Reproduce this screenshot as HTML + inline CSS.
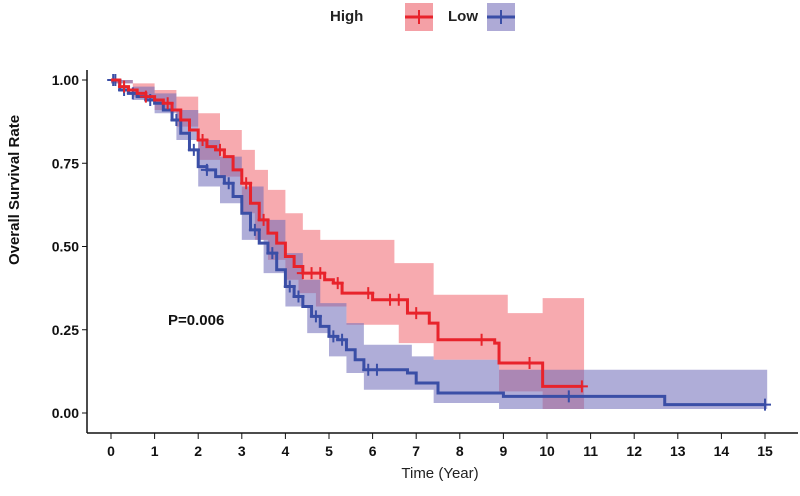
<!DOCTYPE html>
<html><head><meta charset="utf-8"><style>
body{margin:0;background:#fff;}
svg text{font-family:"Liberation Sans",sans-serif;}
</style></head><body>
<svg width="800" height="491">
<g>
<text x="330" y="21" font-size="15" font-weight="bold" fill="#222">High</text>
<rect x="405" y="3" width="28" height="28" fill="#f4a0a6"/>
<line x1="405" y1="17" x2="433" y2="17" stroke="#e8232b" stroke-width="3"/><line x1="419" y1="10" x2="419" y2="24" stroke="#e8232b" stroke-width="2"/>
<text x="448" y="21" font-size="15" font-weight="bold" fill="#222">Low</text>
<rect x="487" y="3" width="28" height="28" fill="#aeaad6"/>
<line x1="487" y1="17" x2="515" y2="17" stroke="#3a4ea6" stroke-width="3"/><line x1="501" y1="10" x2="501" y2="24" stroke="#3a4ea6" stroke-width="2"/>
</g>
<g id="plot"></g>
<text transform="translate(19,190) rotate(-90)" text-anchor="middle" font-size="15" font-weight="bold" fill="#111">Overall Survival Rate</text>
<text x="440" y="478" text-anchor="middle" font-size="15" fill="#222">Time (Year)</text>
<text x="168" y="325" font-size="15" font-weight="bold" fill="#111">P=0.006</text>
</svg>
<script>
const xTicks=[0,1,2,3,4,5,6,7,8,9,10,11,12,13,14,15];
const yTicks=[0,0.25,0.5,0.75,1];
const yTickLabels=["0.00","0.25","0.50","0.75","1.00"];
const highT=[0,0.2,0.4,0.6,0.8,1.0,1.2,1.4,1.6,1.8,2.0,2.2,2.4,2.6,2.8,3.0,3.2,3.4,3.6,3.8,4.0,4.2,4.4,4.9,5.1,5.3,6.0,6.8,7.3,7.5,8.8,8.9,9.9,10.8];
const highS=[1,0.98,0.97,0.96,0.95,0.94,0.93,0.91,0.88,0.85,0.82,0.80,0.79,0.77,0.73,0.69,0.63,0.58,0.54,0.51,0.47,0.44,0.42,0.40,0.39,0.36,0.34,0.30,0.27,0.22,0.21,0.15,0.08,0.08];
const lowT=[0,0.2,0.4,0.6,0.8,1.0,1.2,1.4,1.6,1.8,2.0,2.2,2.4,2.6,2.8,3.0,3.2,3.4,3.6,3.8,4.0,4.2,4.4,4.6,4.8,5.0,5.2,5.4,5.6,5.8,6.8,7.0,7.5,9,12.7,15];
const lowS=[1,0.97,0.96,0.95,0.94,0.93,0.91,0.88,0.84,0.79,0.74,0.73,0.71,0.69,0.65,0.60,0.55,0.51,0.48,0.43,0.38,0.35,0.32,0.29,0.26,0.23,0.22,0.19,0.16,0.13,0.12,0.09,0.06,0.05,0.025,0.025];
const highUT=[0,0.5,1,1.5,2,2.5,3,3.3,3.6,4,4.4,4.8,6.5,7.4,9.1,9.9,10.85];
const highU=[1,0.99,0.97,0.95,0.90,0.85,0.79,0.73,0.67,0.60,0.55,0.52,0.45,0.355,0.30,0.345,0.345];
const highLT=[0,0.5,1,1.5,2,2.5,3,3.3,3.6,4,4.3,4.7,5.4,6.6,7.4,8.9,9.9,10.85];
const highL=[0.99,0.95,0.91,0.86,0.76,0.71,0.60,0.52,0.46,0.40,0.36,0.32,0.265,0.21,0.16,0.065,0.012,0.012];
const lowUT=[0,0.5,1,1.5,2,2.5,3,3.5,4,4.4,4.8,5.4,5.8,6.9,7.4,8.9,15.05];
const lowU=[1,0.98,0.96,0.91,0.82,0.77,0.68,0.58,0.48,0.40,0.33,0.27,0.205,0.17,0.16,0.13,0.13];
const lowLT=[0,0.5,1,1.5,2,2.5,3,3.5,4,4.5,5,5.4,5.8,7.4,8.9,15.05];
const lowL=[0.99,0.94,0.90,0.82,0.68,0.63,0.52,0.42,0.32,0.24,0.17,0.12,0.07,0.03,0.012,0.012];
const highCens=[0.3,0.8,1.3,2.1,2.5,3.1,3.5,4.4,4.6,4.8,5.2,5.9,6.4,6.6,7.0,8.5,9.6,10.8];
const lowCens=[0.05,0.1,0.3,0.5,0.9,1.5,1.9,2.2,2.7,3.3,3.7,4.1,4.3,4.7,5.1,5.3,5.9,6.1,10.5,15];
const X=t=>111+t*43.6, Y=s=>413-s*333;
const NS="http://www.w3.org/2000/svg", g=document.getElementById('plot');
function el(tag,attrs,name,parent){const e=document.createElementNS(NS,tag);for(const k in attrs)e.setAttribute(k,attrs[k]);


(parent||g).appendChild(e);return e;}
function stepPts(T,S){let p=[];for(let i=0;i<T.length;i++){if(i>0)p.push([X(T[i]),Y(S[i-1])]);p.push([X(T[i]),Y(S[i])]);}return p;}
function band(UT,U,LT,L,fill,name){const up=stepPts(UT,U),lo=stepPts(LT,L).reverse();
el('polygon',{points:up.concat(lo).map(p=>p.join(',')).join(' '),fill:fill,'fill-opacity':0.55},name);}
band(highUT,highU,highLT,highL,'#f0646e','high-ci-band');
band(lowUT,lowU,lowLT,lowL,'#6e6ab8','low-ci-band');
function stepAt(T,S,t){let v=S[0];for(let i=0;i<T.length;i++)if(T[i]<=t)v=S[i];return v;}
function curve(T,S,C,col,name){el('polyline',{points:stepPts(T,S).map(p=>p.join(',')).join(' '),fill:'none',stroke:col,'stroke-width':3},name);
C.forEach(c=>{const x=X(c),y=Y(stepAt(T,S,c));el('path',{d:`M${x-6},${y}H${x+6}M${x},${y-6}V${y+6}`,stroke:col,'stroke-width':2},name+'-censor');});}
curve(lowT,lowS,lowCens,'#3a4ea6','low-curve');
curve(highT,highS,highCens,'#e8232b','high-curve');
el('line',{x1:87,y1:70,x2:87,y2:433,stroke:'#111','stroke-width':1.5},'y-axis-line');
el('line',{x1:87,y1:433,x2:798,y2:433,stroke:'#111','stroke-width':1.5},'x-axis-line');
yTicks.forEach((v,i)=>{el('line',{x1:82,y1:Y(v),x2:87,y2:Y(v),stroke:'#111'},'y-tick');
const t=el('text',{x:79,y:Y(v)+5,'text-anchor':'end','font-size':14,'font-weight':'bold',fill:'#111'},'y-tick-label');t.textContent=yTickLabels[i];});
xTicks.forEach(v=>{el('line',{x1:X(v),y1:433,x2:X(v),y2:439,stroke:'#111'},'x-tick');
const t=el('text',{x:X(v),y:456,'text-anchor':'middle','font-size':14,'font-weight':'bold',fill:'#111'},'x-tick-label');t.textContent=v;});
</script>
</body></html>
